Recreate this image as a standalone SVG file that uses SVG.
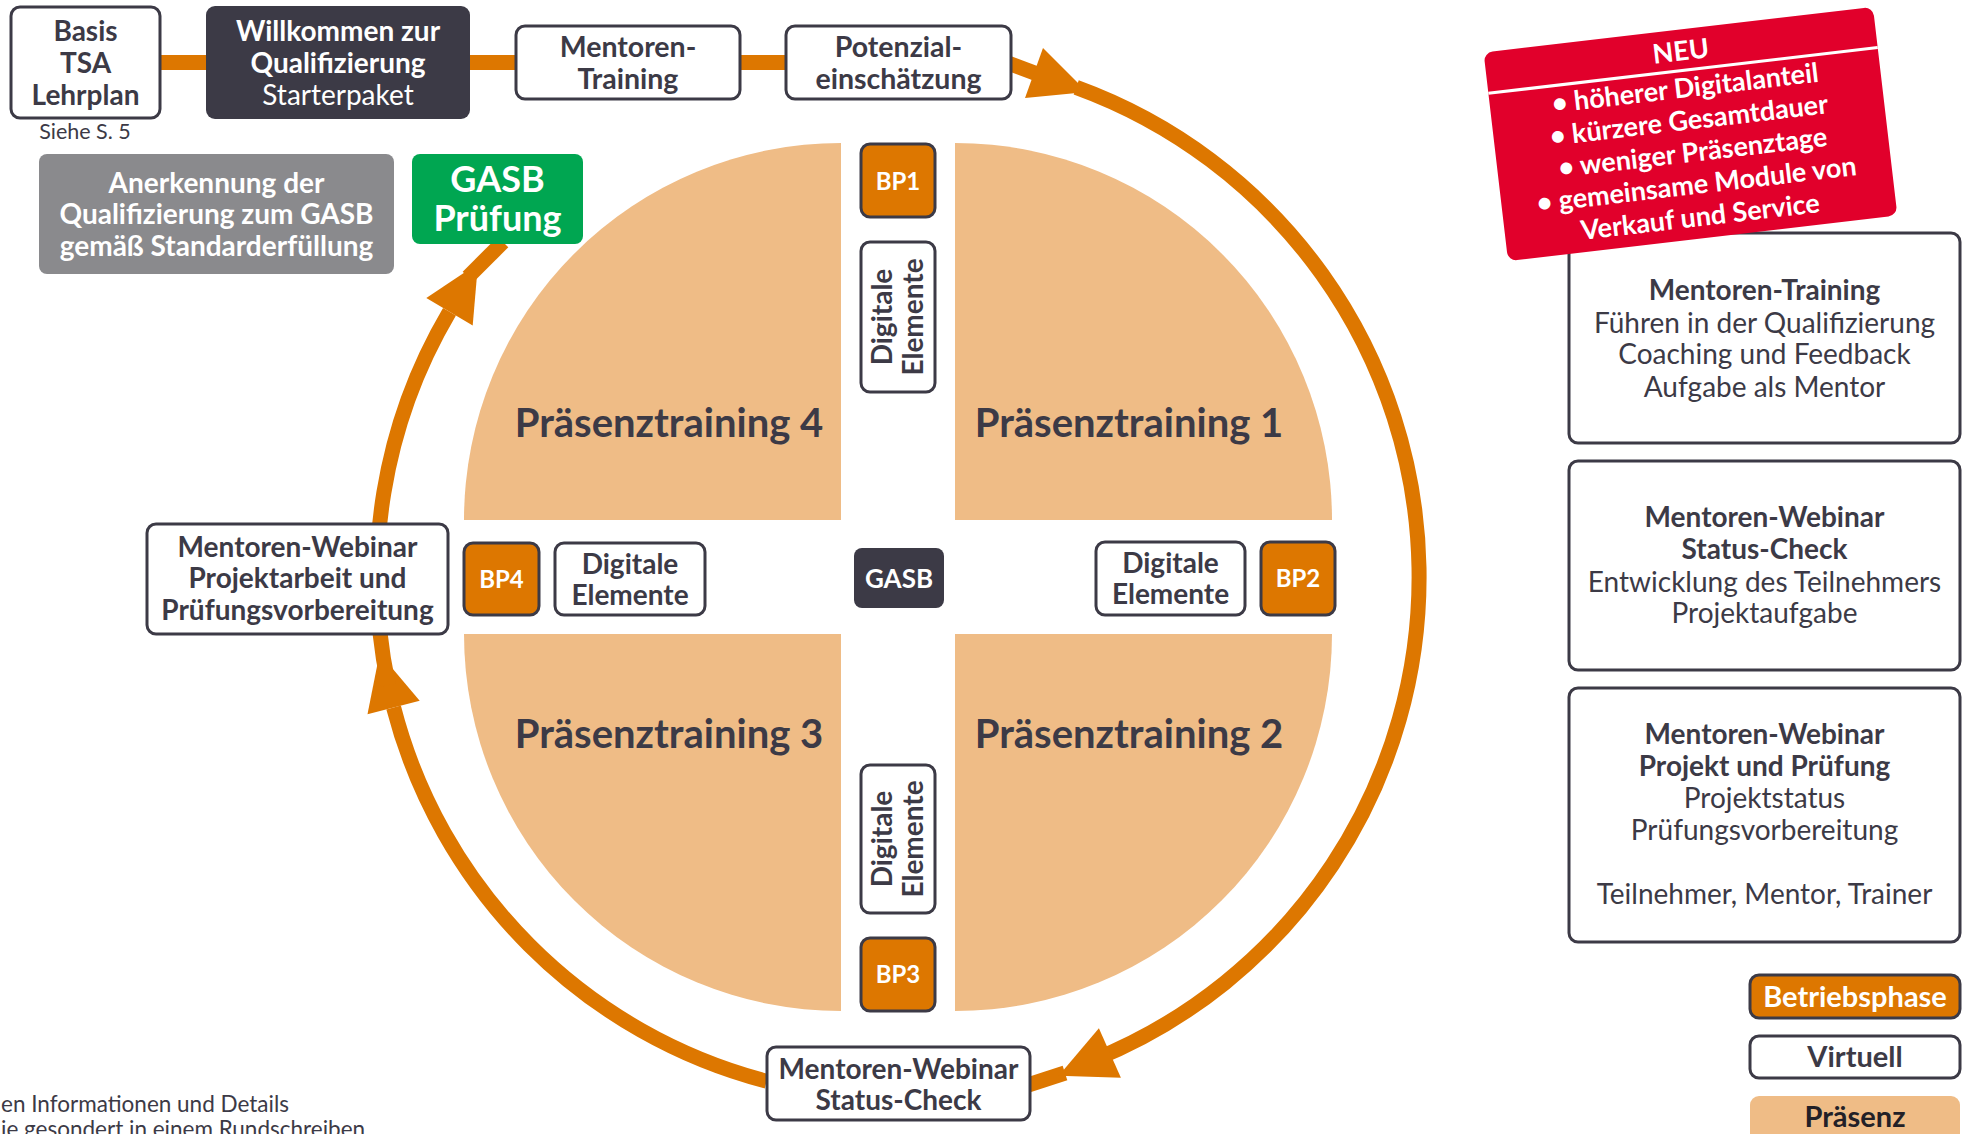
<svg xmlns="http://www.w3.org/2000/svg" width="1969" height="1134" viewBox="0 0 1969 1134">
<style>
text { font-family: Lato, "Open Sans", "Liberation Sans", sans-serif; text-anchor: middle; }
.b { font-weight: 700; }
.dk { fill: #3c3a46; }
.w { fill: #ffffff; }
.box { fill: #ffffff; stroke: #3c3a46; stroke-width: 3; }
.dbox { fill: #3c3a46; }
.bp { fill: #dd7700; stroke: #3c3a46; stroke-width: 3; }
.ring { fill: none; stroke: #dd7700; stroke-width: 15; }
.ah { fill: #dd7700; }
.q { fill: #efbc86; }
.f28 { font-size: 28px; }
.f285 { font-size: 28.5px; }
.f29 { font-size: 29px; }
.f24 { font-size: 24px; }
.f27 { font-size: 27px; }
.pt { font-size: 40px; }
</style>

<g id="quadrants">
  <path class="q" d="M841,520 L841,143 A377,377 0 0 0 464,520 Z"/>
  <path class="q" d="M955,520 L955,143 A377,377 0 0 1 1332,520 Z"/>
  <path class="q" d="M955,634 L1332,634 A377,377 0 0 1 955,1011 Z"/>
  <path class="q" d="M841,634 L841,1011 A377,377 0 0 1 464,634 Z"/>
  <text class="b dk pt" x="669" y="437">Präsenztraining 4</text>
  <text class="b dk pt" x="1129" y="437">Präsenztraining 1</text>
  <text class="b dk pt" x="1129" y="748">Präsenztraining 2</text>
  <text class="b dk pt" x="669" y="748">Präsenztraining 3</text>
</g>

<g id="connectors">
  <line x1="150" y1="62.5" x2="800" y2="62.5" stroke="#dd7700" stroke-width="15"/>
  <path class="ring" d="M1000,60 L1040,75"/>
  <path class="ring" d="M1076.2,87.4 A521,521 0 0 1 1093.2,1060.1"/>
  <polygon class="ah" points="1043,48 1025,98 1087,92"/>
  <path class="ring" d="M1065,1073 L1025,1086"/>
  <polygon class="ah" points="1098.9,1028.3 1120.9,1077.7 1058.7,1075.8"/>
  <path class="ring" d="M766.6,1081.2 A521,521 0 0 1 393.6,707.5"/>
  <polygon class="ah" points="367.5,714.3 419.7,700.7 379.6,653.3"/>
  <path class="ring" d="M388.4,685.3 A521,521 0 0 1 449.5,311.8"/>
  <polygon class="ah" points="426.3,298.1 472.7,325.5 478,263.6"/>
  <path class="ring" d="M468,277 L503,242"/>
</g>

<g id="basis">
  <rect class="box" x="11" y="7" width="149" height="111" rx="9"/>
  <text class="b dk f28" x="85.5" y="41">Basis</text>
  <text class="b dk f28" x="85.5" y="73">TSA</text>
  <text class="b dk f28" x="85.5" y="105">Lehrplan</text>
  <text class="dk" style="font-size:21.5px" x="85" y="139">Siehe S. 5</text>
</g>

<g id="willkommen">
  <rect class="dbox" x="206" y="6" width="264" height="113" rx="9"/>
  <text class="b w f28" x="338" y="41">Willkommen zur</text>
  <text class="b w f28" x="338" y="73">Qualifizierung</text>
  <text class="w f28" x="338" y="105">Starterpaket</text>
</g>

<g id="mentoren-training">
  <rect class="box" x="516" y="26" width="224" height="73" rx="9"/>
  <text class="b dk f285" x="628" y="57">Mentoren-</text>
  <text class="b dk f285" x="628" y="89">Training</text>
</g>

<g id="potenzial">
  <rect class="box" x="786" y="26" width="225" height="73" rx="9"/>
  <text class="b dk f285" x="898.5" y="57">Potenzial-</text>
  <text class="b dk f285" x="898.5" y="89">einschätzung</text>
</g>

<g id="anerkennung">
  <rect fill="#8a8a8d" x="39" y="154" width="355" height="120" rx="8"/>
  <text class="b w f28" x="216.5" y="192.5">Anerkennung der</text>
  <text class="b w f28" x="216.5" y="224">Qualifizierung zum GASB</text>
  <text class="b w f28" x="216.5" y="256">gemäß Standarderfüllung</text>
</g>

<g id="gasb-pruefung">
  <rect fill="#00a651" x="412" y="154" width="171" height="90" rx="8"/>
  <text class="b w" style="font-size:36px" x="497.5" y="191.5">GASB</text>
  <text class="b w" style="font-size:36px" x="497.5" y="231">Prüfung</text>
</g>

<g id="bp1">
  <rect class="bp" x="861" y="144" width="74" height="73" rx="9"/>
  <text class="b w f24" x="898" y="189.5">BP1</text>
</g>

<g id="digital-top" transform="rotate(-90 898 317)">
  <rect class="box" x="823" y="280" width="150" height="74" rx="9"/>
  <text class="b dk f28" x="898" y="311">Digitale</text>
  <text class="b dk f28" x="898" y="342">Elemente</text>
</g>

<g id="gasb">
  <rect class="dbox" x="854" y="548" width="90" height="60" rx="8"/>
  <text class="b w" style="font-size:26px" x="899" y="587.5">GASB</text>
</g>

<g id="digital-right">
  <rect class="box" x="1096" y="542" width="149" height="73" rx="9"/>
  <text class="b dk f28" x="1170.5" y="573">Digitale</text>
  <text class="b dk f28" x="1170.5" y="604">Elemente</text>
</g>

<g id="bp2">
  <rect class="bp" x="1261" y="542" width="74" height="73" rx="9"/>
  <text class="b w f24" x="1298" y="587">BP2</text>
</g>

<g id="bp4">
  <rect class="bp" x="464" y="543" width="75" height="72" rx="9"/>
  <text class="b w f24" x="501.5" y="587.5">BP4</text>
</g>

<g id="digital-left">
  <rect class="box" x="555" y="543" width="150" height="72" rx="9"/>
  <text class="b dk f28" x="630" y="573.5">Digitale</text>
  <text class="b dk f28" x="630" y="604.5">Elemente</text>
</g>

<g id="digital-bottom" transform="rotate(-90 898 839)">
  <rect class="box" x="824" y="802" width="148" height="74" rx="9"/>
  <text class="b dk f28" x="898" y="833">Digitale</text>
  <text class="b dk f28" x="898" y="864">Elemente</text>
</g>

<g id="bp3">
  <rect class="bp" x="861" y="938" width="74" height="73" rx="9"/>
  <text class="b w f24" x="898" y="983">BP3</text>
</g>

<g id="webinar-projektarbeit">
  <rect class="box" x="147" y="524" width="301" height="110" rx="9"/>
  <text class="b dk f28" x="297.5" y="556.5">Mentoren-Webinar</text>
  <text class="b dk f28" x="297.5" y="588">Projektarbeit und</text>
  <text class="b dk f28" x="297.5" y="619.5">Prüfungsvorbereitung</text>
</g>

<g id="webinar-status">
  <rect class="box" x="767" y="1047" width="263" height="73" rx="9"/>
  <text class="b dk f28" x="898.5" y="1079">Mentoren-Webinar</text>
  <text class="b dk f28" x="898.5" y="1110">Status-Check</text>
</g>

<g id="info-training">
  <rect class="box" x="1569" y="233" width="391" height="210" rx="9"/>
  <text class="b dk f28" x="1764.5" y="300">Mentoren-Training</text>
  <text class="dk f28" x="1764.5" y="333">Führen in der Qualifizierung</text>
  <text class="dk f28" x="1764.5" y="364">Coaching und Feedback</text>
  <text class="dk f28" x="1764.5" y="397">Aufgabe als Mentor</text>
</g>

<g id="neu">
  <g transform="translate(1690.5,134) rotate(-6.7)">
    <rect fill="#e1002b" x="-196" y="-105" width="392" height="210" rx="9"/>
    <line x1="-196" y1="-64" x2="196" y2="-64" stroke="#ffffff" stroke-width="3"/>
    <text class="b w f27" x="0" y="-74">NEU</text>
    <text class="b w f27" x="0" y="-37">• höherer Digitalanteil</text>
    <text class="b w f27" x="0" y="-4.6">• kürzere Gesamtdauer</text>
    <text class="b w f27" x="0" y="27.8">• weniger Präsenztage</text>
    <text class="b w f27" x="0" y="60.2">• gemeinsame Module von</text>
    <text class="b w f27" x="0" y="92.6">Verkauf und Service</text>
  </g>
</g>

<g id="info-status">
  <rect class="box" x="1569" y="461" width="391" height="209" rx="9"/>
  <text class="b dk f28" x="1764.5" y="527">Mentoren-Webinar</text>
  <text class="b dk f28" x="1764.5" y="559">Status-Check</text>
  <text class="dk f28" x="1764.5" y="592">Entwicklung des Teilnehmers</text>
  <text class="dk f28" x="1764.5" y="623">Projektaufgabe</text>
</g>

<g id="info-pruefung">
  <rect class="box" x="1569" y="688" width="391" height="254" rx="9"/>
  <text class="b dk f28" x="1764.5" y="744">Mentoren-Webinar</text>
  <text class="b dk f28" x="1764.5" y="776">Projekt und Prüfung</text>
  <text class="dk f28" x="1764.5" y="808">Projektstatus</text>
  <text class="dk f28" x="1764.5" y="840">Prüfungsvorbereitung</text>
  <text class="dk f28" x="1764.5" y="904">Teilnehmer, Mentor, Trainer</text>
</g>

<g id="legend-betriebsphase">
  <rect class="bp" x="1750" y="975" width="210" height="43" rx="9"/>
  <text class="b w f29" x="1855" y="1007">Betriebsphase</text>
</g>
<g id="legend-virtuell">
  <rect class="box" x="1750" y="1036" width="210" height="42" rx="9"/>
  <text class="b dk f29" x="1855" y="1067">Virtuell</text>
</g>
<g id="legend-praesenz">
  <rect class="q" x="1750" y="1096" width="210" height="50" rx="9"/>
  <text class="b f29" fill="#222027" x="1855" y="1127">Präsenz</text>
</g>

<g id="footnote">
  <text class="dk" style="font-size:22.5px;text-anchor:start" x="1" y="1112">en Informationen und Details</text>
  <text class="dk" style="font-size:22.5px;text-anchor:start" x="1" y="1137">ie gesondert in einem Rundschreiben</text>
</g>
</svg>
